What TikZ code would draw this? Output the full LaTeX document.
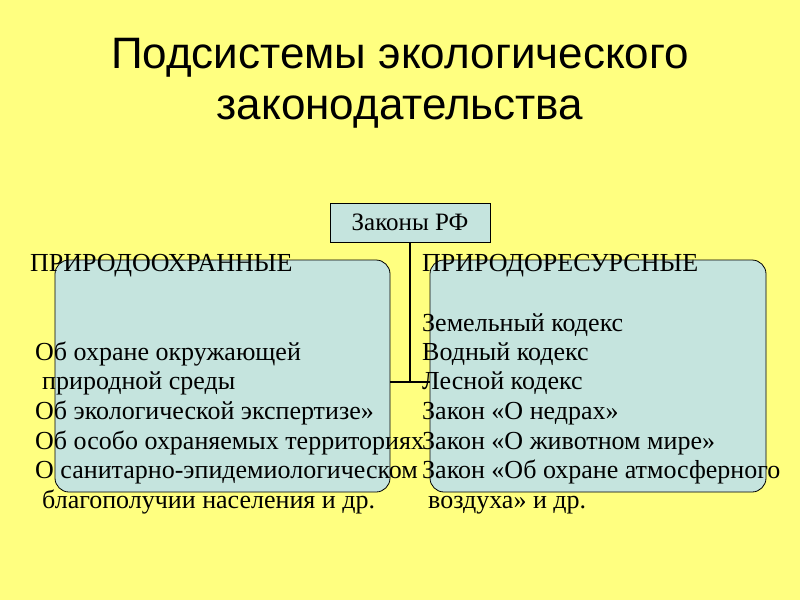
\documentclass[tikz,border=0pt]{standalone}
\usepackage{fontspec}
\setmainfont{Liberation Serif}
\newfontfamily\ttlfont{Liberation Sans}
\definecolor{bg}{RGB}{255,255,128}
\definecolor{boxc}{RGB}{197,228,222}
\begin{document}
\begin{tikzpicture}[x=1pt,y=-1pt,
  rbox/.style={draw=black,line width=0.8pt,fill=boxc,rounded corners=14pt},
  txt/.style={anchor=base west,inner sep=0pt,font=\fontsize{26}{26}\selectfont},
  ttl/.style={font=\ttlfont\fontsize{44}{44}\selectfont,inner sep=0pt,anchor=base}]
\fill[bg] (0,0) rectangle (800,600);
\useasboundingbox (0,0) rectangle (800,600);
\node[ttl] (t1) at (400,68) {Подсистемы экологического};
\node[ttl] (t2) at (400,119) {законодательства};
\draw[rbox] (55,260) rectangle (390,492);
\draw[rbox] (430,260) rectangle (766,492);
\node[draw,line width=0.8pt,fill=boxc,minimum width=160pt,minimum height=39pt,font=\fontsize{25}{25}\selectfont] (top) at (410,222.5) {Законы РФ};
\coordinate (j) at (410,382);
\coordinate (l) at (390,382);
\coordinate (r) at (430,382);
\draw[line width=1.6pt] (top.south) -- (j);
\draw[line width=1.6pt] (l) -- (r);
\node[txt] (lh) at (30,271) {ПРИРОДООХРАННЫЕ};
\node[txt] (l1) at (35,360) {Об охране окружающей};
\node[txt] (l2) at (42,389) {природной среды};
\node[txt] (l3) at (35,419) {Об экологической экспертизе»};
\node[txt] (l4) at (35,449) {Об особо охраняемых территориях};
\node[txt] (l5) at (35,478) {О санитарно-эпидемиологическом};
\node[txt] (l6) at (42,508) {благополучии населения и др.};
\node[txt] (rh) at (422,271) {ПРИРОДОРЕСУРСНЫЕ};
\node[txt] (r1) at (422,331) {Земельный кодекс};
\node[txt] (r2) at (422,360) {Водный кодекс};
\node[txt] (r3) at (422,389) {Лесной кодекс};
\node[txt] (r4) at (422,419) {Закон «О недрах»};
\node[txt] (r5) at (422,449) {Закон «О животном мире»};
\node[txt] (r6) at (422,478) {Закон «Об охране атмосферного};
\node[txt] (r7) at (428,508) {воздуха» и др.};
\end{tikzpicture}
\end{document}
